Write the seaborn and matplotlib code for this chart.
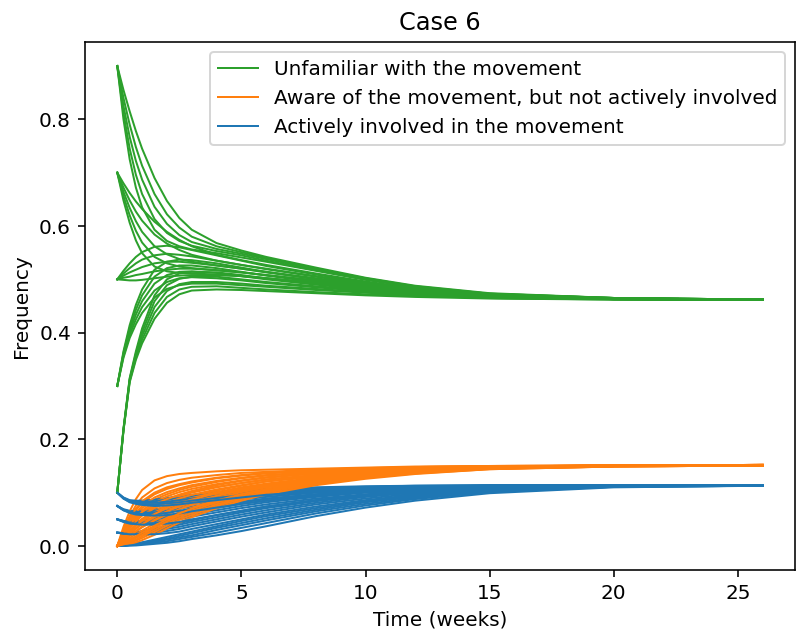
import matplotlib
matplotlib.use("Agg")
import matplotlib.pyplot as plt
import seaborn as sns

weeks = [0, 0.25, 0.5, 0.75, 1, 1.5, 2, 2.5, 3, 4, 5, 6, 8, 10, 12, 15, 20, 26]

# one row per run: starting share unfamiliar 0.9, 0.7, 0.5, 0.3, 0.1,
# each with starting share active 0, 0.025, 0.05, 0.075, 0.1
unfamiliar = [
    [.900, .855, .815, .778, .745, .690, .647, .615, .593, .568, .554, .542, .522, .503, .488, .474, .465, .462],
    [.900, .840, .790, .748, .713, .660, .622, .597, .580, .562, .551, .540, .520, .502, .487, .473, .465, .462],
    [.900, .825, .767, .722, .687, .636, .604, .583, .570, .557, .548, .538, .519, .501, .486, .473, .465, .462],
    [.900, .812, .745, .696, .660, .613, .587, .572, .563, .553, .545, .535, .517, .500, .486, .472, .465, .462],
    [.900, .800, .725, .672, .635, .593, .572, .562, .556, .549, .541, .533, .516, .499, .485, .472, .465, .462],
    [.700, .680, .662, .646, .632, .608, .589, .574, .562, .546, .536, .527, .511, .496, .483, .471, .464, .462],
    [.700, .672, .648, .627, .610, .584, .567, .555, .546, .535, .527, .520, .506, .493, .481, .470, .464, .462],
    [.700, .664, .634, .609, .589, .562, .547, .538, .533, .526, .520, .514, .502, .490, .479, .469, .464, .462],
    [.700, .656, .620, .591, .569, .542, .530, .524, .521, .517, .513, .508, .498, .487, .477, .468, .463, .462],
    [.700, .648, .606, .573, .549, .524, .515, .512, .511, .509, .506, .502, .494, .484, .476, .468, .463, .462],
    [.500, .516, .530, .542, .551, .561, .563, .560, .555, .545, .535, .525, .509, .494, .482, .470, .464, .462],
    [.500, .511, .521, .530, .537, .545, .548, .546, .543, .535, .527, .519, .505, .491, .480, .469, .464, .462],
    [.500, .507, .513, .518, .523, .530, .533, .533, .531, .526, .520, .513, .501, .489, .478, .468, .464, .462],
    [.500, .503, .505, .508, .510, .515, .518, .520, .520, .517, .513, .508, .497, .486, .476, .468, .463, .462],
    [.500, .499, .498, .498, .499, .502, .505, .507, .508, .508, .506, .502, .493, .483, .474, .467, .463, .462],
    [.300, .365, .414, .452, .481, .518, .533, .537, .536, .530, .522, .514, .500, .488, .478, .468, .463, .462],
    [.300, .362, .408, .443, .470, .505, .521, .526, .526, .521, .514, .507, .495, .485, .476, .467, .463, .462],
    [.300, .359, .402, .434, .459, .492, .508, .514, .515, .512, .506, .500, .490, .481, .474, .466, .463, .462],
    [.300, .356, .396, .425, .448, .479, .495, .502, .504, .502, .498, .493, .485, .478, .472, .466, .463, .462],
    [.300, .353, .390, .416, .437, .466, .482, .489, .492, .492, .489, .486, .480, .475, .470, .465, .463, .462],
    [.100, .220, .315, .365, .408, .470, .500, .511, .514, .513, .508, .502, .492, .483, .475, .467, .463, .462],
    [.100, .219, .313, .361, .401, .459, .489, .501, .505, .505, .500, .495, .487, .480, .473, .466, .463, .462],
    [.100, .218, .311, .357, .394, .448, .478, .491, .495, .495, .492, .488, .482, .476, .471, .465, .463, .462],
    [.100, .217, .309, .353, .387, .437, .467, .481, .486, .487, .484, .481, .476, .472, .469, .465, .462, .462],
    [.100, .216, .307, .349, .380, .426, .456, .472, .479, .481, .480, .478, .474, .470, .467, .464, .462, .462],
]

aware = [
    [0, .019, .035, .049, .061, .077, .088, .096, .103, .114, .122, .128, .136, .141, .145, .148, .151, .152],
    [0, .023, .042, .058, .071, .087, .097, .105, .111, .120, .127, .132, .138, .142, .146, .149, .151, .152],
    [0, .027, .049, .067, .081, .097, .107, .114, .119, .127, .132, .136, .141, .144, .147, .149, .151, .152],
    [0, .031, .056, .076, .091, .108, .118, .124, .128, .133, .137, .139, .143, .146, .148, .150, .151, .152],
    [0, .036, .065, .088, .105, .123, .131, .135, .137, .140, .142, .143, .145, .147, .149, .150, .151, .152],
    [0, .016, .029, .041, .051, .066, .077, .086, .093, .104, .113, .121, .130, .137, .142, .147, .150, .152],
    [0, .019, .034, .048, .059, .074, .085, .093, .100, .110, .118, .125, .133, .139, .144, .148, .151, .152],
    [0, .022, .040, .055, .067, .082, .093, .101, .107, .116, .123, .129, .136, .141, .145, .149, .151, .152],
    [0, .026, .046, .062, .075, .091, .101, .108, .114, .122, .128, .133, .139, .143, .147, .149, .151, .152],
    [0, .029, .052, .070, .084, .100, .110, .116, .121, .128, .133, .137, .142, .145, .148, .150, .151, .152],
    [0, .010, .019, .028, .036, .049, .060, .070, .078, .091, .102, .111, .124, .133, .140, .146, .150, .151],
    [0, .013, .024, .034, .043, .056, .067, .076, .084, .096, .106, .114, .126, .134, .141, .147, .150, .151],
    [0, .016, .029, .040, .050, .063, .074, .083, .090, .101, .110, .117, .128, .136, .142, .147, .150, .151],
    [0, .019, .034, .046, .057, .071, .081, .089, .096, .106, .114, .121, .131, .137, .143, .148, .150, .152],
    [0, .022, .039, .053, .064, .078, .088, .096, .102, .111, .118, .124, .133, .139, .144, .148, .151, .152],
    [0, .006, .011, .017, .023, .036, .047, .058, .067, .082, .094, .104, .119, .130, .138, .145, .149, .151],
    [0, .008, .015, .022, .029, .042, .053, .063, .072, .086, .097, .107, .121, .131, .139, .146, .150, .151],
    [0, .010, .019, .027, .035, .048, .059, .069, .077, .090, .101, .110, .123, .133, .140, .146, .150, .151],
    [0, .012, .023, .032, .041, .054, .065, .074, .082, .094, .104, .113, .125, .134, .141, .147, .150, .151],
    [0, .015, .027, .038, .047, .060, .071, .080, .087, .099, .108, .116, .127, .135, .142, .147, .150, .151],
    [0, .002, .004, .007, .011, .021, .033, .044, .054, .071, .085, .097, .114, .126, .135, .144, .149, .151],
    [0, .003, .006, .010, .015, .026, .038, .049, .058, .075, .088, .100, .116, .128, .136, .144, .149, .151],
    [0, .004, .008, .012, .018, .030, .042, .053, .062, .078, .091, .102, .118, .129, .137, .145, .149, .151],
    [0, .005, .010, .015, .021, .034, .046, .057, .066, .082, .094, .105, .120, .130, .138, .145, .150, .151],
    [0, .006, .012, .018, .025, .038, .050, .061, .070, .085, .097, .107, .121, .131, .139, .146, .150, .151],
]

active = [
    [0, .001, .003, .005, .007, .012, .017, .022, .027, .037, .047, .056, .071, .084, .094, .105, .112, .113],
    [.025, .024, .025, .026, .028, .033, .038, .043, .048, .058, .066, .074, .086, .096, .103, .110, .113, .114],
    [.050, .047, .046, .046, .048, .052, .057, .062, .066, .075, .082, .088, .097, .104, .108, .112, .114, .114],
    [.075, .069, .066, .065, .066, .069, .073, .077, .081, .088, .093, .098, .104, .108, .111, .113, .114, .114],
    [.100, .091, .086, .085, .085, .087, .090, .093, .096, .101, .105, .107, .110, .112, .113, .114, .114, .114],
    [0, .001, .002, .004, .006, .010, .014, .019, .024, .034, .043, .052, .068, .082, .092, .104, .111, .113],
    [.025, .024, .024, .025, .026, .030, .035, .040, .045, .054, .063, .071, .084, .094, .101, .109, .113, .114],
    [.050, .047, .045, .045, .046, .049, .054, .058, .063, .071, .079, .085, .095, .102, .107, .111, .113, .114],
    [.075, .068, .065, .064, .064, .066, .070, .074, .078, .085, .090, .095, .102, .107, .110, .113, .114, .114],
    [.100, .090, .085, .083, .083, .084, .087, .090, .093, .098, .102, .105, .109, .111, .113, .114, .114, .114],
    [0, .001, .002, .003, .005, .008, .012, .016, .020, .030, .039, .048, .065, .079, .090, .103, .111, .113],
    [.025, .024, .023, .024, .025, .028, .032, .036, .041, .050, .059, .067, .081, .092, .100, .108, .113, .114],
    [.050, .046, .044, .043, .044, .046, .050, .054, .059, .067, .075, .082, .092, .100, .105, .111, .113, .114],
    [.075, .068, .064, .062, .062, .063, .066, .070, .074, .081, .087, .092, .100, .105, .109, .112, .114, .114],
    [.100, .090, .084, .082, .081, .081, .083, .086, .089, .094, .099, .102, .107, .110, .112, .113, .114, .114],
    [0, .000, .001, .002, .004, .006, .009, .013, .017, .025, .034, .043, .061, .076, .088, .101, .111, .113],
    [.025, .023, .023, .023, .023, .025, .028, .032, .037, .046, .055, .063, .078, .089, .098, .107, .112, .114],
    [.050, .046, .043, .042, .042, .043, .046, .050, .055, .063, .071, .078, .089, .097, .104, .110, .113, .114],
    [.075, .067, .063, .061, .060, .060, .062, .066, .070, .077, .083, .089, .097, .103, .108, .112, .113, .114],
    [.100, .089, .083, .080, .079, .078, .080, .082, .085, .090, .095, .099, .105, .109, .111, .113, .114, .114],
    [0, .000, .001, .001, .002, .004, .006, .009, .013, .020, .028, .037, .056, .072, .085, .099, .110, .113],
    [.025, .023, .022, .022, .022, .022, .024, .027, .032, .041, .050, .059, .074, .086, .096, .106, .112, .113],
    [.050, .045, .042, .041, .040, .040, .042, .045, .050, .058, .066, .074, .086, .095, .102, .109, .113, .114],
    [.075, .067, .062, .059, .058, .057, .058, .061, .065, .072, .079, .085, .094, .101, .106, .111, .113, .114],
    [.100, .089, .082, .079, .077, .075, .076, .078, .081, .086, .091, .096, .102, .107, .110, .112, .114, .114],
]

labels = [
    "Unfamiliar with the movement",
    "Aware of the movement, but not actively involved",
    "Actively involved in the movement",
]
colors = ["#2ca02c", "#ff7f0e", "#1f77b4"]

fig = plt.figure(figsize=(796 / 144, 632 / 144), dpi=144)
ax = fig.add_axes([85 / 796, 62 / 632, 710 / 796, 528 / 632])

for k in range(len(unfamiliar)):
    for series, color, label in zip((unfamiliar, aware, active), colors, labels):
        sns.lineplot(x=weeks, y=series[k], color=color, lw=1, ax=ax,
                     label=label if k == 0 else None,
                     estimator=None, sort=False)

ax.set_title("Case 6")
ax.set_xlabel("Time (weeks)")
ax.set_ylabel("Frequency")
ax.legend(loc="upper right")

fig.savefig("out.png", dpi=144)
